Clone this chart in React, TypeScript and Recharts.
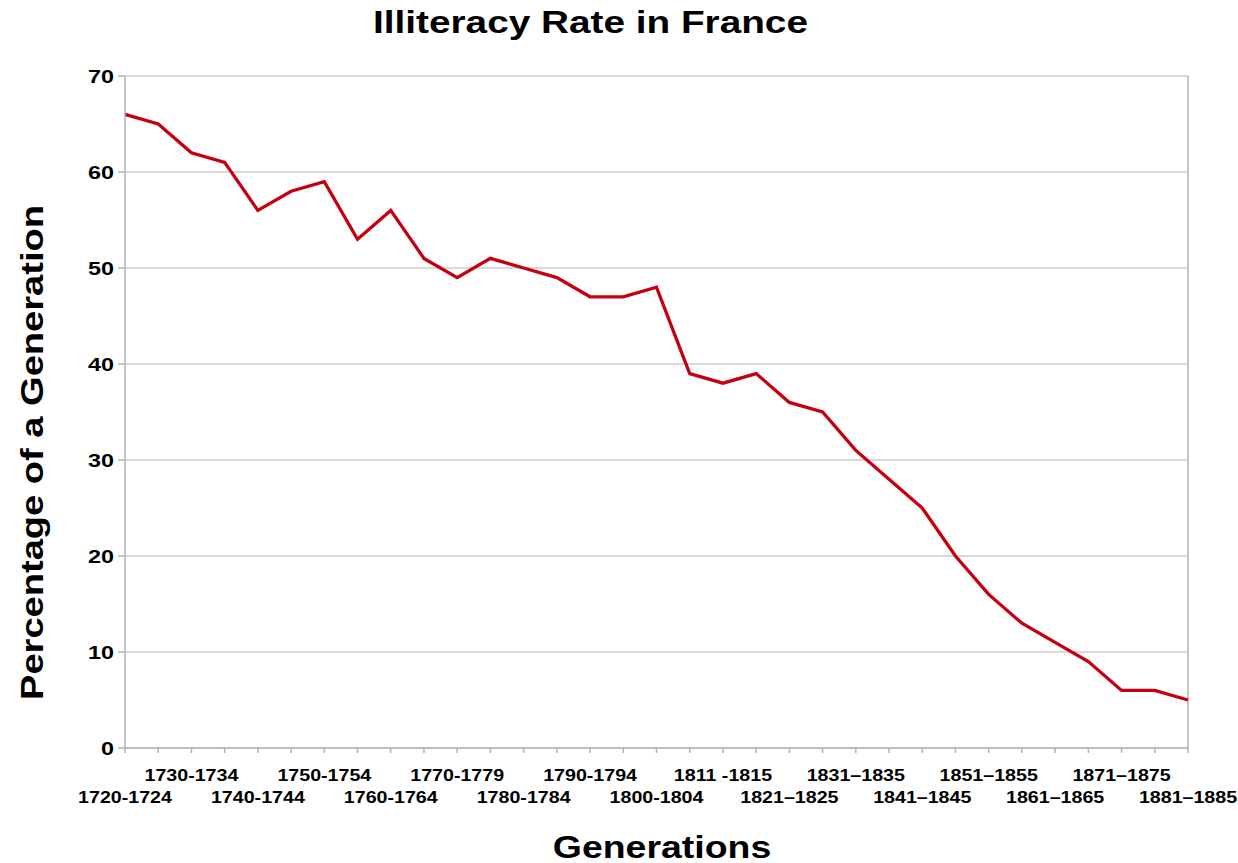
import React from "react";
import { LineChart, Line, XAxis, YAxis, CartesianGrid, ReferenceLine } from "recharts";

const generations = [
  "1720-1724", "1725-1729", "1730-1734", "1735-1739", "1740-1744", "1745-1749",
  "1750-1754", "1755-1759", "1760-1764", "1765-1769", "1770-1779", "1775-1779",
  "1780-1784", "1785-1789", "1790-1794", "1795-1799", "1800-1804", "1805-1810",
  "1811 -1815", "1816–1820", "1821–1825", "1826–1830", "1831–1835", "1836–1840",
  "1841–1845", "1846–1850", "1851–1855", "1856–1860", "1861–1865", "1866–1870",
  "1871–1875", "1876–1880", "1881–1885",
];

const illiteracy = [
  66, 65, 62, 61, 56, 58, 59, 53, 56, 51,
  49, 51, 50, 49, 47, 47, 48, 39, 38, 39,
  36, 35, 31, 28, 25, 20, 16, 13, 11, 9,
  6, 6, 5,
];

const yTicks = [0, 10, 20, 30, 40, 50, 60, 70];

const data = generations.map((g, i) => ({ gen: g, rate: illiteracy[i] }));

const FONT = "'Liberation Sans', Arial, sans-serif";
const GRAY = "#b3b3b3";

const XTick = (props: any) => {
  const { x, y, payload, index } = props;
  const i = typeof index === "number" ? index : generations.indexOf(payload.value);
  if (i % 2 !== 0) return null;
  const dy = i % 4 === 0 ? 49.5 : 28;
  return (
    <text
      transform={`translate(${x},${y + dy}) scale(1.19,1)`}
      textAnchor="middle"
      fontFamily={FONT}
      fontWeight="bold"
      fontSize={16.5}
      fill="#000"
    >
      {payload.value}
    </text>
  );
};

const YTick = (props: any) => {
  const { x, y, payload } = props;
  return (
    <text
      transform={`translate(${x},${y + 6.5}) scale(1.3,1)`}
      textAnchor="end"
      fontFamily={FONT}
      fontWeight="bold"
      fontSize={18}
      fill="#000"
    >
      {payload.value}
    </text>
  );
};

export default function App() {
  return (
    <div style={{ position: "absolute", left: 0, top: 0, width: 1238, height: 863, background: "#fff" }}>
      <LineChart
        width={1238}
        height={863}
        data={data}
        margin={{ top: 76, right: 50, bottom: 55, left: 65 }}
      >
        <CartesianGrid vertical={false} stroke="#cccccc" strokeWidth={1.5} />
        <XAxis
          dataKey="gen"
          interval={0}
          height={60}
          tickSize={5}
          tickMargin={0}
          axisLine={{ stroke: GRAY, strokeWidth: 1.5 }}
          tickLine={{ stroke: GRAY, strokeWidth: 1.5 }}
          tick={<XTick />}
        />
        <YAxis
          domain={[0, 70]}
          ticks={yTicks}
          width={60}
          tickSize={7}
          tickMargin={4}
          axisLine={{ stroke: GRAY, strokeWidth: 1.5 }}
          tickLine={{ stroke: GRAY, strokeWidth: 1.5 }}
          tick={<YTick />}
        />
        <ReferenceLine x={generations[generations.length - 1]} stroke={GRAY} strokeWidth={1.5} />
        <Line
          type="linear"
          dataKey="rate"
          stroke="#c4000f"
          strokeWidth={3.3}
          dot={false}
          activeDot={false}
          isAnimationActive={false}
        />
      </LineChart>
      <svg
        width={1238}
        height={863}
        style={{ position: "absolute", left: 0, top: 0, pointerEvents: "none" }}
      >
        <text
          transform="translate(590.5,33) scale(1.25,1)"
          textAnchor="middle"
          fontFamily={FONT}
          fontWeight="bold"
          fontSize={31}
          fill="#000"
        >
          Illiteracy Rate in France
        </text>
        <text
          transform="translate(662,858) scale(1.17,1)"
          textAnchor="middle"
          fontFamily={FONT}
          fontWeight="bold"
          fontSize={32}
          fill="#000"
        >
          Generations
        </text>
        <text
          transform="translate(43,452.5) rotate(-90) scale(1.19,1)"
          textAnchor="middle"
          fontFamily={FONT}
          fontWeight="bold"
          fontSize={32}
          fill="#000"
        >
          Percentage of a Generation
        </text>
      </svg>
    </div>
  );
}
